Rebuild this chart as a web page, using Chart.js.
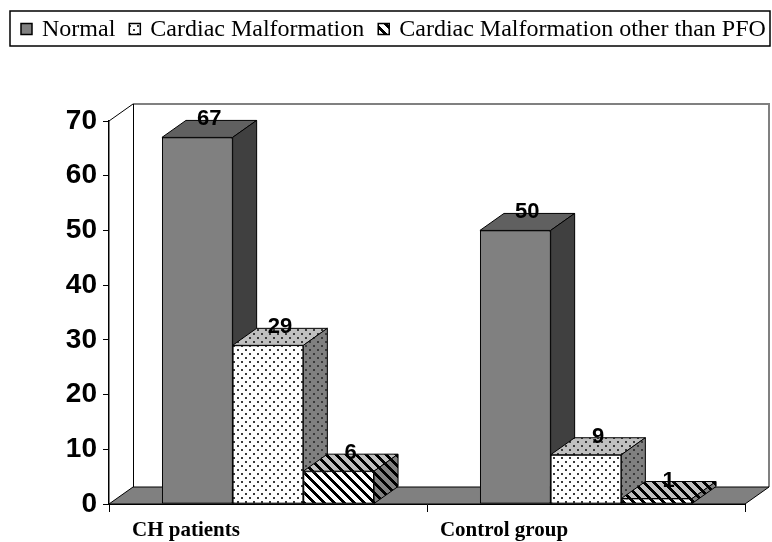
<!DOCTYPE html>
<html><head><meta charset="utf-8">
<script src="https://cdn.jsdelivr.net/npm/chart.js@4/dist/chart.umd.min.js"></script>
<style>html,body{margin:0;padding:0;background:#fff}canvas{display:block}</style>
</head><body>
<canvas id="c" width="772" height="542"></canvas>
<script>
// ---- data ----
const categories = ['CH patients', 'Control group'];
const seriesNames = ['Normal', 'Cardiac Malformation', 'Cardiac Malformation other than PFO'];
const normalValues = [67, 50];
const malformationValues = [29, 9];
const otherThanPfoValues = [6, 1];
const yTicks = [0, 10, 20, 30, 40, 50, 60, 70];

// ---- styling ----
const DX = 24, DY = 17;
const canvas = document.getElementById('c');
const ctx0 = canvas.getContext('2d');

function pattern(kind, bg) {
  const n = kind === 'dots' ? 8 : 10;
  const t = document.createElement('canvas');
  t.width = n; t.height = n;
  const g = t.getContext('2d');
  g.fillStyle = bg; g.fillRect(0, 0, n, n);
  if (kind === 'dots') {
    g.fillStyle = '#3a3a3a';
    g.fillRect(1, 1, 2, 2); g.fillRect(5, 5, 2, 2);
  } else {
    g.fillStyle = '#000';
    for (let y = 0; y < n; y++) for (let x = 0; x < n; x++) {
      const m = ((x - y) % n + n) % n;
      if (m < 4) g.fillRect(x, y, 1, 1);
    }
  }
  return ctx0.createPattern(t, 'repeat');
}

const faceStyles = [
  { front: '#808080', top: '#606060', side: '#404040' },
  { front: pattern('dots', '#ffffff'), top: pattern('dots', '#c0c0c0'), side: pattern('dots', '#808080') },
  { front: pattern('stripes', '#ffffff'), top: pattern('stripes', '#c0c0c0'), side: pattern('stripes', '#808080') }
];

const box3d = {
  id: 'box3d',
  beforeDatasetsDraw(chart) {
    const { ctx, chartArea: a } = chart;
    ctx.save();
    // back wall
    ctx.fillStyle = '#ffffff';
    ctx.fillRect(a.left + DX, a.top - DY, a.right - a.left, a.bottom - a.top);
    ctx.strokeStyle = '#808080'; ctx.lineWidth = 2;
    ctx.beginPath();
    ctx.moveTo(a.left + DX, a.top - DY);
    ctx.lineTo(a.right + DX, a.top - DY);
    ctx.lineTo(a.right + DX, a.bottom - DY);
    ctx.stroke();
    ctx.strokeStyle = '#000'; ctx.lineWidth = 1;
    ctx.beginPath();
    ctx.moveTo(a.left + DX + 0.5, a.top - DY);
    ctx.lineTo(a.left + DX + 0.5, a.bottom - DY);
    ctx.moveTo(a.left, a.top);
    ctx.lineTo(a.left + DX, a.top - DY);
    ctx.stroke();
    // floor
    ctx.fillStyle = '#808080';
    ctx.beginPath();
    ctx.moveTo(a.left, a.bottom);
    ctx.lineTo(a.right, a.bottom);
    ctx.lineTo(a.right + DX, a.bottom - DY);
    ctx.lineTo(a.left + DX, a.bottom - DY);
    ctx.closePath();
    ctx.fill(); ctx.stroke();
    ctx.restore();
  },
  afterDatasetsDraw(chart) {
    const { ctx } = chart;
    const metas = chart.data.datasets.map((d, i) => chart.getDatasetMeta(i));
    ctx.save();
    ctx.strokeStyle = '#000'; ctx.lineWidth = 1;
    for (let j = 0; j < categories.length; j++) {
      metas.forEach((meta, i) => {
        const bar = meta.data[j];
        bar.draw(ctx);
        const { x, y, base, width } = bar.getProps(['x', 'y', 'base', 'width'], true);
        const l = x - width / 2, r = x + width / 2;
        const st = faceStyles[i];
        ctx.beginPath();
        ctx.moveTo(l, y); ctx.lineTo(l + DX, y - DY); ctx.lineTo(r + DX, y - DY); ctx.lineTo(r, y); ctx.closePath();
        ctx.fillStyle = st.top; ctx.fill(); ctx.stroke();
        ctx.beginPath();
        ctx.moveTo(r, y); ctx.lineTo(r + DX, y - DY); ctx.lineTo(r + DX, base - DY); ctx.lineTo(r, base); ctx.closePath();
        ctx.fillStyle = st.side; ctx.fill(); ctx.stroke();
      });
    }
    // value labels
    ctx.fillStyle = '#000';
    ctx.font = 'bold 22px "Liberation Sans", Arial, sans-serif';
    ctx.textAlign = 'center'; ctx.textBaseline = 'middle';
    metas.forEach((meta, i) => {
      meta.data.forEach((bar, j) => {
        const { x, y } = bar.getProps(['x', 'y'], true);
        ctx.fillText(String(chart.data.datasets[i].data[j]), x + DX / 2, y - DY - 1);
      });
    });
    ctx.restore();
  },
  afterDraw(chart) {
    // legend
    const { ctx } = chart;
    ctx.save();
    ctx.strokeStyle = '#000'; ctx.lineWidth = 1.5;
    ctx.strokeRect(10, 11, 760, 35);
    ctx.font = '24px "Liberation Serif", "Times New Roman", serif';
    ctx.textBaseline = 'middle'; ctx.textAlign = 'left';
    let xPos = 21;
    const yMid = 29, bs = 11;
    chart.data.datasets.forEach((ds, i) => {
      ctx.fillStyle = faceStyles[i].front;
      ctx.fillRect(xPos, yMid - bs / 2, bs, bs);
      ctx.lineWidth = 1.5;
      ctx.strokeRect(xPos, yMid - bs / 2, bs, bs);
      ctx.fillStyle = '#000';
      const tx = xPos + bs + 10;
      ctx.fillText(ds.label, tx, yMid + 1);
      xPos = tx + ctx.measureText(ds.label).width + 14;
    });
    ctx.restore();
  }
};

const valueSeries = [normalValues, malformationValues, otherThanPfoValues];

new Chart(canvas, {
  type: 'bar',
  data: {
    labels: categories,
    datasets: seriesNames.map((name, i) => ({
      label: name,
      data: valueSeries[i],
      backgroundColor: faceStyles[i].front,
      borderColor: '#000',
      borderWidth: 1,
      borderSkipped: false,
      categoryPercentage: 0.667,
      barPercentage: 1.0
    }))
  },
  options: {
    responsive: false,
    devicePixelRatio: 1,
    animation: false,
    layout: { padding: { top: 121, right: 27, bottom: 0, left: 0 } },
    plugins: { legend: { display: false }, tooltip: { enabled: false } },
    scales: {
      x: {
        grid: { display: true, drawOnChartArea: false, drawTicks: true, tickLength: 8, color: '#000', offset: true },
        border: { display: true, color: '#000', width: 1 },
        ticks: {
          color: '#000', labelOffset: -82, padding: 6, maxRotation: 0,
          font: { family: '"Liberation Serif", "Times New Roman", serif', weight: 'bold', size: 21 }
        },
        afterFit(s) { s.height = 38; }
      },
      y: {
        min: 0, max: 70,
        afterBuildTicks(s) { s.ticks = yTicks.map(v => ({ value: v })); },
        grid: { display: true, drawOnChartArea: false, drawTicks: true, tickLength: 6, color: '#000' },
        border: { display: true, color: '#000', width: 1.5 },
        ticks: {
          color: '#000', padding: 6,
          font: { family: '"Liberation Sans", Arial, sans-serif', weight: 'bold', size: 28 }
        },
        afterFit(s) { s.width = 109; }
      }
    }
  },
  plugins: [box3d]
});
</script>
</body></html>
